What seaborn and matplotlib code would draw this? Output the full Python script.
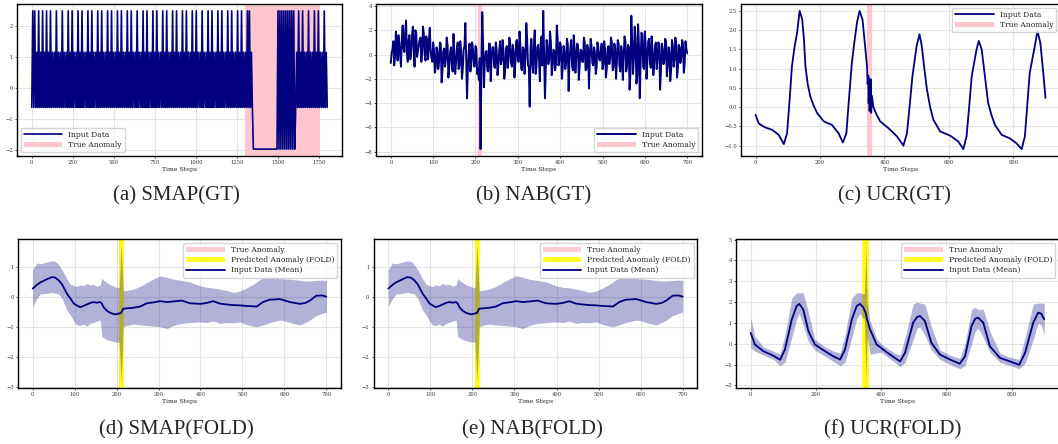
import matplotlib
matplotlib.use("Agg")
import matplotlib.pyplot as plt
import seaborn as sns

# ---------------- data ----------------
# SMAP(GT): one code per sampled step (l = low, h = high, s = spike, b = floor)
SMAP_STEP = 6
SMAP_LEVELS = {"l": -0.62, "h": 1.15, "s": 2.48, "b": -1.96}
SMAP_CODES = (
    "lslslhlslhlslhlslhlslhlhl"
    "slhlhlslhlhlslhlslhlhlslh"
    "lslhlhlslhlslhlhlslhlslhl"
    "hlslhlslhlhlslhlslhlhlslh"
    "lslhlhlslhlhlslhlslhlhlsl"
    "hlslhlhlslhlslhlhlslhlslh"
    "lhlslhlslhlhlslhlslhlhlsl"
    "hlhlslhlslhlhlslhlslhlhls"
    "lhlslhlhlslhlslhlhlslslhl"
    "bbbbbbbbbbbbbbbbbbbbbbbbb"
    "sbsbsbsbsbsbsbsbsb"
    "lhlslhlslhlhlslhlhlslhlslhlhlslhl"
)
SMAP_ANOMALY = (1300, 1755)

# NAB(GT): values at x = 0, 4, 8, ... (A) and x = 2, 6, 10, ... (B)
NAB_STEP = 2
NAB_VALUES_A = [
    -0.7, 0.4, -0.9, 1.9, -0.5, 1.0, -1.0, 2.4, 0.2, 2.8, -0.6, 1.6, 0.1, 2.3, -1.0, 1.8,
    0.3, 1.2, -0.6, 2.3, 0.0, 1.5, -0.4, 2.2, -0.3, 1.0, -1.5, 0.6, -1.2, 1.0, -2.3, 0.3,
    -1.0, 1.4, -1.9, 0.2, -0.8, 1.7, -1.6, 0.5, -1.2, 1.1, -2.0, 0.4, 2.6, -3.6, 0.3, -1.4,
    1.0, -0.9, 0.7, -1.6, -2.1, -7.8, 3.5, -2.7, 0.2, -1.3, 0.9, -2.2, 0.6, -1.0, 1.0, -1.7,
    0.3, -0.8, 1.2, -2.0, 0.5, -1.1, 1.4, -0.7, 0.8, -1.9, 1.1, -0.5, 1.9, -1.2, 0.6, -1.6,
    2.6, -0.9, -4.3, 1.3, -1.5, 2.0, -1.0, 0.8, -2.2, 1.5, 3.6, -3.6, 1.2, -0.8, 1.9, -1.7,
    0.4, -1.3, 2.4, -0.9, 1.0, -2.0, 0.7, -1.2, 1.3, -3.0, 0.5, -0.9, 1.6, -1.5, 0.9, -2.1,
    0.4, -0.6, 1.4, -1.3, 0.8, -2.8, 1.3, -0.7, 0.6, -1.6, 1.0, -0.4, 0.3, -1.2, 1.1, -1.9,
    0.5, -0.8, 1.4, -1.3, 0.9, -2.0, 1.2, -0.9, 0.7, -2.1, 1.5, -1.4, 0.8, -2.9, 3.2, -1.6,
    2.3, -2.4, 2.5, -3.6, 1.8, -1.0, 1.9, -2.0, 1.1, -0.6, 1.5, -1.7, 0.7, -1.2, 1.0, -2.9,
    0.9, -0.8, 1.3, -1.8, 0.6, -2.2, 1.2, -1.0, 1.4, -1.9, 0.8, -0.7, 1.2, -1.5, 1.1, 0.1,
]
NAB_VALUES_B = [
    0.2, 1.1, -0.2, 0.9, 1.6, -0.1, 1.3, 0.5, 1.9, 0.0, 1.2, -0.4, 1.5, 0.6, 2.0, -0.2,
    0.8, 1.4, 0.1, 1.7, -0.5, 0.9, 1.1, 0.3, -0.6,
    0.4, -1.1, 0.2, -0.6, 0.9, -1.3, 0.5, -0.4, 0.8, -1.0, 0.6, -1.4, 0.1, -0.7, 1.0, -0.9,
    0.3, -1.2, 0.7, -0.3, -1.1, 0.9, -0.5, 0.4, -1.0,
    0.5, -1.2, -0.3, -1.0, 0.8, -0.6, 0.3, -1.4, 0.9, -0.2, 0.6, -1.1, 0.4, -0.9, 1.1, -0.4,
    0.2, -1.3, 0.7, -0.5, 0.9, -1.0, 0.3, -0.8, 1.2,
    -0.6, 0.8, -1.3, 0.4, -0.2, 1.3, -1.0, 0.5, -0.7, 0.9, -1.6, 0.6, -0.3, 1.0, -0.9, 0.2,
    -1.2, 0.7, -0.4, 1.1, -1.0, 0.3, -0.8, 1.4, -0.5,
    0.6, -1.1, 0.2, -0.7, 0.9, -0.4, 1.2, -1.3, 0.5, -0.2, 0.8, -1.0, 0.3, -0.6, 1.0, -1.2,
    0.4, -0.3, 0.7, -0.9, 0.2, -1.1, 0.6, -0.5, 0.9,
    -0.8, 0.4, -1.2, 0.7, -0.3, 1.0, -1.1, 0.5, -0.6, 0.9, -1.4, 0.3, -0.2, 1.1, -0.9, 0.6,
    -1.5, 1.2, -0.4, 1.4, -1.8, 0.9, -0.7, 1.6, -1.2,
    0.8, -0.5, 1.3, -1.1, 0.4, -0.9, 1.0, -0.3, 0.7, -1.4, 0.5, -0.6, 1.1, -1.0, 0.3, -1.3,
    0.8, -0.4, 1.0, -1.2, 0.6, -0.2, 0.9, -0.8, 0.5,
]
NAB_ANOMALY = (206, 216)

# UCR(GT)
UCR_X = [0, 10, 20, 31, 52, 72, 88, 98, 106, 113, 121, 129, 137, 145, 150, 155, 162, 170, 180,
         191, 212, 237, 258, 271, 282, 290, 299, 307, 315, 323, 332, 340, 346, 348, 350, 351,
         353, 354, 356, 357, 358, 359, 361, 366, 376, 387, 413, 439, 459, 470, 478, 487, 500,
         509, 516, 524, 532, 542, 552, 573, 604, 629, 645, 655, 663, 671, 686, 693, 702, 712,
         722, 732, 743, 764, 789, 810, 826, 836, 843, 851, 867, 875, 884, 893, 900]
UCR_Y = [-0.20, -0.42, -0.48, -0.53, -0.59, -0.72, -0.96, -0.68, 0.20, 1.06, 1.55, 1.93, 2.50,
         2.28, 1.80, 1.06, 0.60, 0.28, 0.05, -0.15, -0.37, -0.46, -0.68, -0.92, -0.68, 0.20,
         1.15, 1.70, 2.20, 2.50, 2.28, 1.60, 1.06, 0.60, 0.82, 0.10, 0.75, -0.10, 0.50, -0.05,
         0.72, -0.15, 0.30, 0.00, -0.20, -0.37, -0.55, -0.76, -1.00, -0.68, 0.00, 0.80, 1.59,
         1.89, 1.59, 1.00, 0.46, 0.00, -0.33, -0.63, -0.74, -0.89, -1.09, -0.76, 0.00, 0.80,
         1.50, 1.72, 1.50, 0.80, 0.11, -0.20, -0.46, -0.72, -0.81, -0.94, -1.09, -0.76, 0.00,
         0.89, 1.59, 1.98, 1.67, 0.90, 0.24]
UCR_ANOMALY = (346, 361)

# SMAP(FOLD) / NAB(FOLD): mean and band
FSN_X = [0, 10, 18, 34, 46, 54, 62, 70, 82, 90, 98, 105, 113, 121, 129, 137, 145, 153, 161, 165,
         169, 177, 185, 197, 206, 211, 216, 224, 240, 256, 272, 288, 304, 320, 335, 355, 375,
         399, 415, 430, 446, 462, 478, 494, 510, 526, 534, 549, 565, 581, 589, 597, 613, 637,
         650, 661, 676, 690, 700]
FSN_MEAN = [0.28, 0.40, 0.48, 0.59, 0.66, 0.64, 0.55, 0.42, 0.10, -0.05, -0.22, -0.28, -0.34,
            -0.30, -0.25, -0.20, -0.17, -0.19, -0.17, -0.22, -0.34, -0.46, -0.53, -0.58, -0.55,
            -0.53, -0.39, -0.38, -0.36, -0.32, -0.21, -0.18, -0.14, -0.17, -0.15, -0.12, -0.21,
            -0.23, -0.20, -0.14, -0.22, -0.25, -0.27, -0.28, -0.30, -0.31, -0.32, -0.17, -0.09,
            -0.08, -0.07, -0.10, -0.17, -0.23, -0.20, -0.12, 0.04, 0.05, 0.01]
FSN_UP = [0.91, 1.13, 1.10, 1.16, 1.20, 1.18, 1.08, 0.90, 0.59, 0.42, 0.38, 0.35, 0.40, 0.37,
          0.45, 0.40, 0.42, 0.35, 0.40, 0.62, 0.55, 0.48, 0.40, 0.34, 0.30, 1.70, 0.21, 0.22,
          0.26, 0.35, 0.48, 0.60, 0.70, 0.65, 0.59, 0.55, 0.50, 0.37, 0.32, 0.30, 0.26, 0.22,
          0.15, 0.20, 0.30, 0.42, 0.50, 0.64, 0.65, 0.64, 0.62, 0.60, 0.59, 0.55, 0.53, 0.53,
          0.55, 0.56, 0.55]
FSN_LO = [-0.32, -0.05, 0.10, 0.12, 0.15, 0.12, 0.10, -0.05, -0.45, -0.61, -0.80, -0.93, -0.95,
          -0.90, -0.97, -0.88, -0.85, -0.80, -0.77, -1.32, -1.35, -1.42, -1.45, -1.50, -1.50,
          -2.80, -0.99, -0.95, -0.90, -0.93, -0.95, -0.97, -0.99, -1.05, -0.95, -0.88, -0.85,
          -0.83, -0.85, -0.80, -0.88, -0.85, -0.86, -0.83, -0.92, -0.97, -0.99, -0.93, -0.85,
          -0.80, -0.77, -0.78, -0.85, -0.93, -0.85, -0.77, -0.62, -0.55, -0.50]
FSN_TRUE = (206, 216)
FSN_PRED = (206, 218)

# UCR(FOLD)
FU_X = [0, 13, 39, 69, 90, 105, 126, 141, 149, 161, 177, 197, 228, 253, 274, 289, 310, 325, 335,
        345, 349, 353, 357, 366, 386, 400, 417, 442, 458, 473, 498, 510, 519, 534, 554, 580,
        611, 641, 657, 677, 688, 697, 713, 733, 764, 795, 823, 841, 866, 881, 890, 900]
FU_MEAN = [0.52, -0.04, -0.36, -0.57, -0.77, -0.28, 1.17, 1.81, 1.91, 1.65, 0.60, -0.04, -0.36,
           -0.60, -0.76, -0.28, 1.17, 1.81, 1.91, 1.75, 1.60, 1.45, 1.15, 0.68, -0.04, -0.20,
           -0.41, -0.68, -0.85, -0.44, 1.01, 1.28, 1.33, 1.09, 0.04, -0.52, -0.76, -0.96, -0.60,
           0.85, 1.20, 1.25, 1.01, -0.12, -0.68, -0.85, -1.01, -0.44, 1.01, 1.49, 1.45, 1.17]
FU_UP = [1.25, 0.35, -0.15, -0.35, -0.50, 0.40, 2.20, 2.45, 2.45, 2.45, 1.50, 0.20, -0.15, -0.35,
         -0.45, 0.40, 2.20, 2.45, 2.45, 2.40, 2.40, 4.70, 2.00, 1.10, 0.25, 0.00, -0.20, -0.45,
         -0.55, 0.30, 1.90, 2.00, 1.95, 1.90, 0.80, -0.30, -0.55, -0.70, 0.00, 1.65, 1.75, 1.65,
         1.65, 0.60, -0.45, -0.65, -0.75, 0.30, 1.90, 1.95, 1.95, 1.95]
FU_LO = [-0.20, -0.35, -0.55, -0.75, -1.05, -0.90, 0.30, 1.20, 1.45, 0.90, 0.10, -0.30, -0.60,
         -0.85, -1.05, -0.90, 0.30, 1.20, 1.45, 1.20, 1.20, -1.80, 0.40, -0.50, -0.45, -0.40,
         -0.60, -0.90, -1.10, -0.90, 0.20, 0.75, 0.80, 0.40, -0.30, -0.75, -1.00, -1.20, -1.05,
         0.00, 0.60, 0.75, 0.30, -0.40, -0.90, -1.05, -1.20, -0.95, 0.20, 1.00, 0.90, 0.45]
FU_TRUE = (346, 361)
FU_PRED = (342, 362)

CAPTIONS = ["(a) SMAP(GT)", "(b) NAB(GT)", "(c) UCR(GT)",
            "(d) SMAP(FOLD)", "(e) NAB(FOLD)", "(f) UCR(FOLD)"]

# ---------------- style ----------------
sns.set_theme(style="whitegrid")
plt.rcParams["font.family"] = ["DejaVu Serif"]
plt.rcParams.update({
    "path.simplify": False,
    "axes.edgecolor": "black",
    "axes.linewidth": 1.0,
    "grid.color": "#e4e4e4",
    "grid.linewidth": 0.8,
    "xtick.bottom": True,
    "ytick.left": True,
    "xtick.major.size": 1.5,
    "ytick.major.size": 1.5,
    "xtick.major.width": 0.6,
    "ytick.major.width": 0.6,
    "xtick.major.pad": 1.5,
    "ytick.major.pad": 1.5,
    "xtick.color": "#333333",
    "ytick.color": "#333333",
    "xtick.labelsize": 3.8,
    "ytick.labelsize": 3.8,
})

NAVY = "#000080"
PINK = "pink"
YEL = "yellow"
BAND = "#000080"

W, H = 1058, 444
fig = plt.figure(figsize=(W / 100, H / 100), dpi=100)


def box(l, r, t, b):
    return [l / W, 1 - b / H, (r - l) / W, (b - t) / H]


axes = [
    fig.add_axes(box(17, 342, 4, 156)),
    fig.add_axes(box(376, 702, 4, 156)),
    fig.add_axes(box(741, 1060, 4, 156)),
    fig.add_axes(box(18, 341, 239, 388)),
    fig.add_axes(box(373.6, 697.4, 239, 388)),
    fig.add_axes(box(736, 1059, 239, 388)),
]

LEG = dict(fontsize=5.5, handlelength=5, labelspacing=0.3, borderpad=0.4,
           framealpha=0.8, edgecolor="#cccccc", fancybox=True)
LW = 1.3


def finish(ax, loc):
    ax.set_xlabel("Time Steps", fontsize=4.5, labelpad=1)
    ax.set_ylabel("")
    ax.grid(True)
    for s in ax.spines.values():
        s.set_color("black")
        s.set_linewidth(1.0)
    ax.legend(loc=loc, **LEG)


# (a) SMAP(GT)
ax = axes[0]
smap_x = [i * SMAP_STEP for i in range(len(SMAP_CODES))]
smap_y = [SMAP_LEVELS[c] for c in SMAP_CODES]
sns.lineplot(x=smap_x, y=smap_y, ax=ax, color=NAVY, lw=1.2, sort=False, estimator=None,
             label="Input Data")
ax.axvspan(*SMAP_ANOMALY, color=PINK, alpha=0.9, lw=0, label="True Anomaly")
finish(ax, "lower left")

# (b) NAB(GT)
ax = axes[1]
nab_y = []
for k, a in enumerate(NAB_VALUES_A):
    nab_y.append(a)
    if k < len(NAB_VALUES_B):
        nab_y.append(NAB_VALUES_B[k])
nab_x = [i * NAB_STEP for i in range(len(nab_y))]
sns.lineplot(x=nab_x, y=nab_y, ax=ax, color=NAVY, lw=1.4, sort=False, estimator=None,
             label="Input Data")
ax.axvspan(*NAB_ANOMALY, color=PINK, alpha=0.9, lw=0, label="True Anomaly")
finish(ax, "lower right")

# (c) UCR(GT)
ax = axes[2]
sns.lineplot(x=UCR_X, y=UCR_Y, ax=ax, color=NAVY, lw=LW, sort=False, estimator=None,
             label="Input Data")
ax.axvspan(*UCR_ANOMALY, color=PINK, alpha=0.9, lw=0, label="True Anomaly")
finish(ax, "upper right")


def fold(ax, x, mean, up, lo, true_span, pred_span):
    ax.axvspan(*true_span, color=PINK, alpha=0.8, lw=0, label="True Anomaly")
    ax.axvspan(*pred_span, color=YEL, alpha=0.85, lw=0, label="Predicted Anomaly (FOLD)")
    ax.fill_between(x, lo, up, color=BAND, alpha=0.3, lw=0)
    sns.lineplot(x=x, y=mean, ax=ax, color=NAVY, lw=LW, sort=False, estimator=None,
                 label="Input Data (Mean)")
    finish(ax, "upper right")


fold(axes[3], FSN_X, FSN_MEAN, FSN_UP, FSN_LO, FSN_TRUE, FSN_PRED)
fold(axes[4], FSN_X, FSN_MEAN, FSN_UP, FSN_LO, FSN_TRUE, FSN_PRED)
fold(axes[5], FU_X, FU_MEAN, FU_UP, FU_LO, FU_TRUE, FU_PRED)

cap_x = [176, 534, 894, 176, 532, 893]
cap_y = [196, 196, 196, 430, 430, 430]
for cx, cy, txt in zip(cap_x, cap_y, CAPTIONS):
    fig.text(cx / W, 1 - cy / H, txt, ha="center", va="center",
             fontsize=15, family=["Liberation Serif", "DejaVu Serif"])

fig.savefig("out.png", dpi=100)
